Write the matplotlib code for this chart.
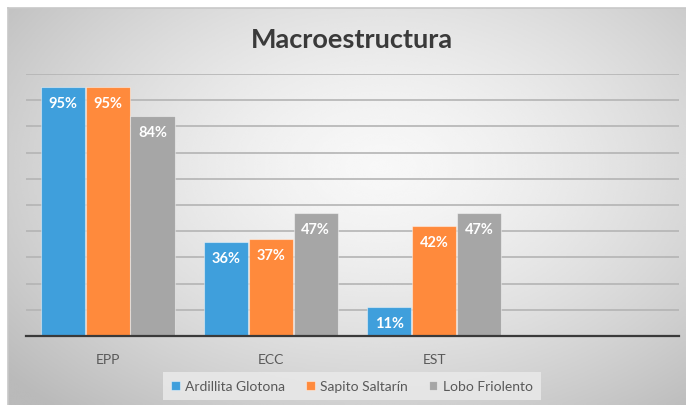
import numpy as np
import matplotlib
matplotlib.use("Agg")
import matplotlib.pyplot as plt

plt.rcParams['font.family'] = ['Lato', 'DejaVu Sans']

# datos
categorias = ["EPP", "ECC", "EST", ""]
series = ["Ardillita Glotona", "Sapito Saltarín", "Lobo Friolento"]
ardillita = [0.95, 0.36, 0.11]
sapito = [0.95, 0.37, 0.42]
lobo = [0.84, 0.47, 0.47]
colores = ["#3f9fdc", "#ff8a3c", "#a6a6a6"]

fig = plt.figure(figsize=(6.86, 4.06), dpi=100)
W, H = 686, 406

# fondo con degradado radial
bg = fig.add_axes([8 / W, 0, 678 / W, (H - 9) / H])
yy, xx = np.mgrid[-1:1:300j, -1:1:500j]
r = np.sqrt(((xx - 0.1) * 0.9) ** 2 + ((yy + 0.2) * 0.8) ** 2)
r = np.clip(r / 1.3, 0, 1)
bg.imshow(0.97 - 0.24 * r ** 1.5, cmap="gray", vmin=0, vmax=1, aspect="auto",
          extent=[0, 1, 0, 1], interpolation="bicubic")
bg.set_axis_off()
# borde superior
fig.add_artist(plt.Line2D([8 / W, 1], [1 - 9 / H, 1 - 9 / H], color="#c8c8c8", lw=1.2))
fig.add_artist(plt.Line2D([8 / W, 8 / W], [0, 1 - 9 / H], color="#c8c8c8", lw=1.2))

ax = fig.add_axes([26 / W, 1 - 337 / H, (679 - 26) / W, (337 - 75) / H])
ax.patch.set_alpha(0)

x = np.arange(len(categorias))
ancho = 0.27
valores = [ardillita, sapito, lobo]
for i, (nombre, vals, c) in enumerate(zip(series, valores, colores)):
    pos = x[:len(vals)] + (i - 1) * (ancho + 0.005)
    barras = ax.bar(pos, vals, ancho, color=c, edgecolor=(1, 1, 1, 0.45),
                    linewidth=0.8, label=nombre, zorder=3)
    for b, v in zip(barras, vals):
        ax.text(b.get_x() + b.get_width() / 2, v - 0.035, f"{round(v * 100)}%",
                ha="center", va="top", color="white", fontsize=10.5,
                fontweight="bold", zorder=4)

ax.set_xlim(-0.5, 3.5)
ax.set_ylim(0, 1)
ax.set_yticks(np.arange(0.1, 1.01, 0.1))
ax.yaxis.grid(True, color="#b4b4b4", lw=1.2, zorder=0)
ax.tick_params(axis="y", left=False, labelleft=False)
ax.set_xticks(x)
ax.set_xticklabels(categorias, color="#595959", fontsize=10)
ax.tick_params(axis="x", length=0, pad=12)
for s in ["top", "right", "left"]:
    ax.spines[s].set_visible(False)
ax.spines["bottom"].set_color("#3a3a3a")
ax.spines["bottom"].set_linewidth(1.6)
ax.spines["bottom"].set_zorder(5)

fig.text(352 / W, 1 - 40 / H, "Macroestructura", ha="center", va="center",
         fontsize=19.5, fontweight="bold", color="#3a3a3a")

leg = fig.legend(loc="center", bbox_to_anchor=(352 / W, 1 - 387 / H), ncol=3,
                 frameon=True, fontsize=10, handlelength=0.6, handleheight=0.6,
                 handletextpad=0.4, columnspacing=1.5, borderpad=0.6)
leg.get_frame().set_facecolor("#e8e8e8")
leg.get_frame().set_edgecolor("none")
leg.get_frame().set_boxstyle("square", pad=0)
leg.get_frame().set_alpha(0.9)
for t in leg.get_texts():
    t.set_color("#595959")

fig.savefig("out.png", dpi=100)
